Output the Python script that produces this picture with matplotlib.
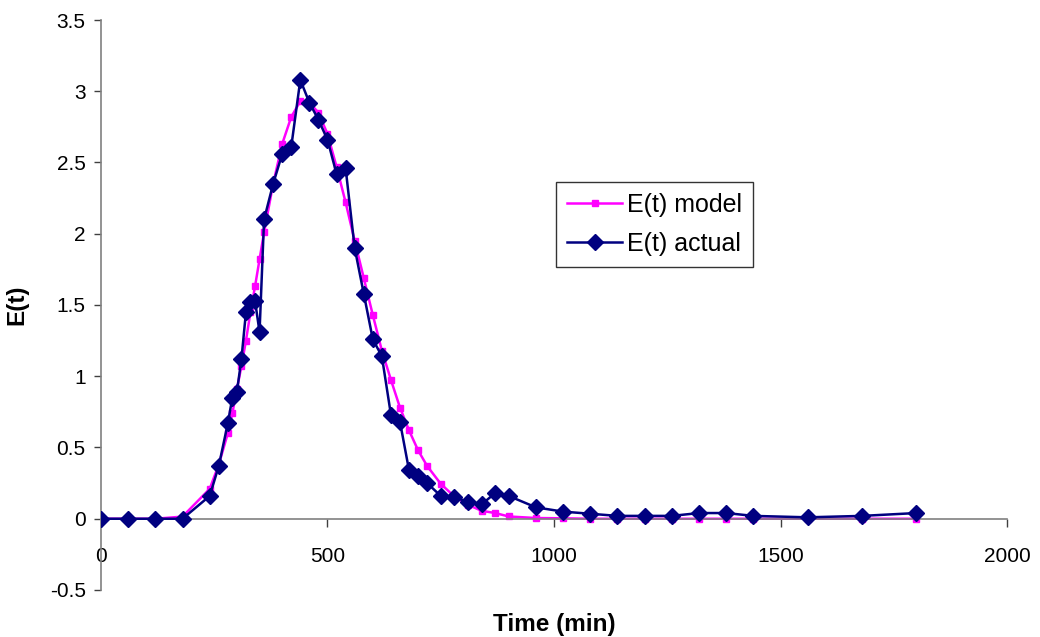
import matplotlib.pyplot as plt

plt.rcParams['font.family'] = ['Liberation Sans', 'DejaVu Sans']

# time (min)
t_model = [0, 60, 120, 180, 240, 260, 280, 290, 300, 310, 320, 330, 340, 350, 360,
           380, 400, 420, 440, 460, 480, 500, 520, 540, 560, 580, 600, 620, 640,
           660, 680, 700, 720, 750, 780, 810, 840, 870, 900, 960, 1020, 1080, 1140,
           1200, 1260, 1320, 1380, 1440, 1560, 1680, 1800]
e_model = [0, 0, 0, 0.015, 0.21, 0.38, 0.60, 0.74, 0.91, 1.07, 1.25, 1.45, 1.63, 1.82, 2.01,
           2.35, 2.63, 2.82, 2.93, 2.92, 2.85, 2.70, 2.47, 2.22, 1.95, 1.69, 1.43, 1.18, 0.975,
           0.78, 0.62, 0.48, 0.37, 0.245, 0.156, 0.098, 0.056, 0.04, 0.016, 0.005, 0.003, 0, 0,
           0, 0, 0, 0, 0, 0, 0, 0]

t_actual = [0, 60, 120, 180, 240, 260, 280, 290, 300, 310, 320, 330, 340, 350, 360,
            380, 400, 420, 440, 460, 480, 500, 520, 540, 560, 580, 600, 620, 640,
            660, 680, 700, 720, 750, 780, 810, 840, 870, 900, 960, 1020, 1080, 1140,
            1200, 1260, 1320, 1380, 1440, 1560, 1680, 1800]
e_actual = [0, 0, 0, 0, 0.16, 0.37, 0.67, 0.85, 0.89, 1.12, 1.45, 1.52, 1.53, 1.31, 2.10,
            2.35, 2.56, 2.61, 3.08, 2.92, 2.80, 2.66, 2.42, 2.46, 1.90, 1.58, 1.26, 1.14, 0.73,
            0.68, 0.34, 0.30, 0.25, 0.16, 0.15, 0.12, 0.10, 0.18, 0.16, 0.08, 0.05, 0.035, 0.02,
            0.02, 0.02, 0.04, 0.04, 0.02, 0.01, 0.02, 0.04]

fig = plt.figure(figsize=(10.4, 6.37), dpi=100)
ax = fig.add_axes([0.0971, 0.0738, 0.8712, 0.8948])

ax.plot(t_model, e_model, color='#FF00FF', lw=1.8, marker='s', ms=4.5,
        label='E(t) model', zorder=2)
ax.plot(t_actual, e_actual, color='#000080', lw=1.8, marker='D', ms=8.5,
        label='E(t) actual', zorder=3)

ax.set_xlim(0, 2000)
ax.set_ylim(-0.5, 3.5)
ax.set_xticks([0, 500, 1000, 1500, 2000])
ax.set_yticks([-0.5, 0, 0.5, 1, 1.5, 2, 2.5, 3, 3.5])
ax.set_yticklabels(['-0.5', '0', '0.5', '1', '1.5', '2', '2.5', '3', '3.5'])

ax.spines['top'].set_visible(False)
ax.spines['right'].set_visible(False)
ax.spines['bottom'].set_position(('data', 0))
for s in ['left', 'bottom']:
    ax.spines[s].set_color('#808080')
    ax.spines[s].set_linewidth(1.2)

ax.tick_params(axis='x', direction='out', length=6, width=1, color='#404040',
               labelsize=15, pad=14)
ax.tick_params(axis='y', direction='out', length=5, width=1, color='#404040',
               labelsize=15, pad=6)

ax.set_xlabel('Time (min)', fontsize=17.5, fontweight='bold')
ax.xaxis.set_label_coords(0.5, -0.04)
ax.set_ylabel('E(t)', fontsize=17.5, fontweight='bold')
ax.yaxis.set_label_coords(-0.08, 0.5)

leg = ax.legend(loc='upper left', bbox_to_anchor=(0.502, 0.716), fontsize=18,
                frameon=True, fancybox=False, handlelength=2.2, borderpad=0.45,
                labelspacing=0.6, handletextpad=0.2, borderaxespad=0)
leg.get_frame().set_edgecolor('black')
leg.get_frame().set_linewidth(1.0)

fig.savefig('out.png', dpi=100)
